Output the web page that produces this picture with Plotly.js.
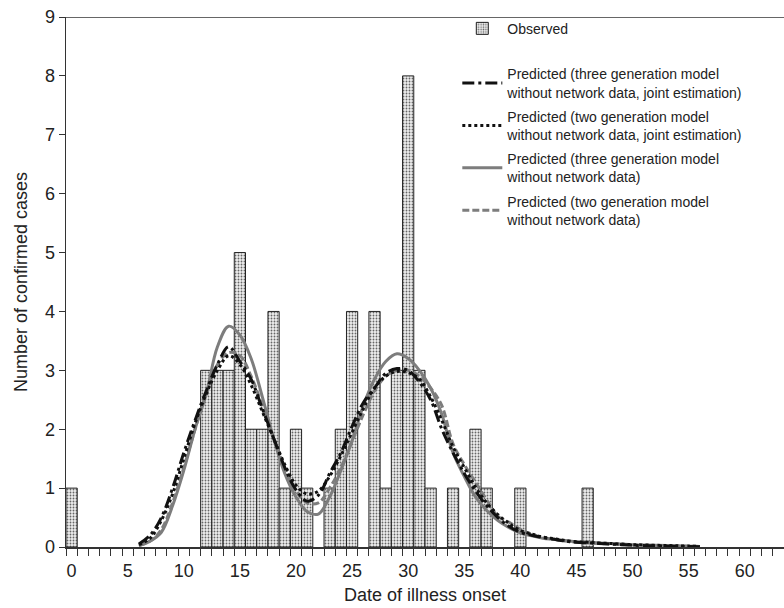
<!DOCTYPE html>
<html>
<head>
<meta charset="utf-8">
<script src="https://cdn.plot.ly/plotly-3.0.1.min.js"></script>
<style>html,body{margin:0;padding:0;background:#fff;}#chart{width:784px;height:608px;}</style>
</head>
<body>
<div id="chart"></div>
<script>
// Observed daily counts
var obsDays = [0,12,13,14,15,16,17,18,19,20,21,23,24,25,27,28,29,30,31,32,34,36,37,40,46];
var obsCounts = [1,3,3,3,5,2,2,4,1,2,1,1,2,4,4,1,3,8,3,1,1,2,1,1,1];

// Model prediction days
var predDays = [6,7,8,9,10,11,12,13,14,15,16,17,18,19,20,21,22,23,24,25,26,27,28,29,30,31,32,33,34,35,36,37,38,39,40,41,42,43,44,45,46,47,48,49,50,52,54,56];

// Predicted (three generation model without network data, joint estimation)
var pred3Joint = [0.05,0.2,0.5,1.0,1.6,2.15,2.65,3.1,3.4,3.15,2.85,2.35,1.85,1.35,0.97,0.78,0.88,1.25,1.6,2.05,2.45,2.7,2.95,3.03,3.0,2.8,2.5,2.0,1.6,1.25,0.95,0.7,0.5,0.35,0.25,0.2,0.16,0.13,0.1,0.08,0.07,0.06,0.05,0.04,0.03,0.02,0.01,0.005];
// Predicted (two generation model without network data, joint estimation)
var pred2Joint = [0.04,0.15,0.45,0.9,1.5,2.1,2.6,3.0,3.25,3.1,2.75,2.3,1.85,1.4,1.05,0.9,0.95,1.2,1.55,1.95,2.35,2.7,2.9,2.98,2.96,2.85,2.55,2.15,1.7,1.35,1.02,0.75,0.55,0.4,0.28,0.22,0.17,0.14,0.11,0.09,0.08,0.07,0.06,0.05,0.04,0.03,0.02,0.01];
// Predicted (three generation model without network data)
var pred3 = [0.02,0.1,0.25,0.7,1.3,2.0,2.6,3.4,3.75,3.6,3.2,2.55,1.85,1.25,0.85,0.6,0.56,0.85,1.3,1.8,2.4,2.85,3.15,3.28,3.2,3.0,2.7,2.25,1.6,1.2,0.85,0.62,0.45,0.33,0.24,0.19,0.15,0.13,0.11,0.09,0.08,0.07,0.06,0.05,0.04,0.03,0.02,0.01];
// Predicted (two generation model without network data)
var pred2 = [0.03,0.1,0.3,0.75,1.35,2.0,2.6,3.1,3.3,3.25,2.9,2.4,1.85,1.35,0.95,0.75,0.75,1.0,1.35,1.8,2.25,2.65,2.9,3.0,3.0,2.9,2.7,2.4,1.75,1.4,1.1,0.8,0.52,0.42,0.3,0.22,0.16,0.13,0.1,0.08,0.07,0.06,0.05,0.04,0.03,0.02,0.015,0.01];

var xTickVals = [0,5,10,15,20,25,30,35,40,45,50,55,60];
var yTickVals = [0,1,2,3,4,5,6,7,8,9];

var names = {
  obs: 'Observed',
  p3j: 'Predicted (three generation model<br>without network data, joint estimation)',
  p2j: 'Predicted (two generation model<br>without network data, joint estimation)',
  p3: 'Predicted (three generation model<br>without network data)',
  p2: 'Predicted (two generation model<br>without network data)'
};

var grey = '#7d7d7d';
var traces = [
  {type:'bar', x:obsDays, y:obsCounts, width:1, name:names.obs, legend:'legend',
   marker:{color:'#eeeeee', line:{color:'#222', width:1},
           pattern:{shape:'.', fgcolor:'#666', bgcolor:'#eeeeee', size:3, solidity:0.3}}},
  {type:'scatter', mode:'lines', x:predDays, y:pred3, name:names.p3, legend:'legend2', legendrank:3, legendgroup:'g3',
   line:{color:grey, width:3, shape:'spline'}},
  {type:'scatter', mode:'lines', x:predDays, y:pred2, name:names.p2, legend:'legend2', legendrank:4, legendgroup:'g4',
   line:{color:grey, width:3, dash:'7px,3px', shape:'spline'}},
  {type:'scatter', mode:'lines', x:predDays, y:pred2Joint, name:names.p2j, legend:'legend2', legendrank:2, legendgroup:'g2',
   line:{color:'#111', width:3, dash:'dot', shape:'spline'}},
  {type:'scatter', mode:'lines', x:predDays, y:pred3Joint, name:names.p3j, legend:'legend2', legendrank:1, legendgroup:'g1',
   line:{color:'#111', width:3, dash:'12px,4px,3px,4px', shape:'spline'}}
];

var font = {family:'"Liberation Sans", Arial, sans-serif', color:'#222'};

var layout = {
  width:784, height:608,
  margin:{l:66, r:0, t:17, b:61},
  paper_bgcolor:'#fff', plot_bgcolor:'#fff',
  font:{family:font.family, color:font.color, size:18},
  bargap:0,
  showlegend:true,
  xaxis:{range:[-0.5,63.5], tickvals:xTickVals, ticktext:xTickVals.map(String),
    ticks:'outside', ticklen:7, tickcolor:'rgba(0,0,0,0)',
    minor:{tick0:0.5, dtick:1, ticks:'outside', ticklen:7, tickcolor:'#333', tickwidth:1, showgrid:false},
    showline:true, linecolor:'#333', linewidth:1.5, showgrid:false, zeroline:false,
    tickfont:{size:18}, title:{text:'Date of illness onset', font:{size:18}, standoff:8}},
  yaxis:{range:[0,9], tickvals:yTickVals, ticks:'outside', ticklen:6, tickcolor:'#333',
    showline:true, linecolor:'#333', linewidth:1.5, showgrid:false, zeroline:false,
    tickfont:{size:18}, title:{text:'Number of confirmed cases', font:{size:18}, standoff:12}},
  shapes:[{type:'line', xref:'paper', yref:'y', x0:0, x1:1, y0:9, y1:9, line:{color:'#333', width:1.5}}],
  legend:{x:0.545, xanchor:'left', y:1.008, yanchor:'top', bgcolor:'rgba(0,0,0,0)',
    font:{size:14, family:font.family, color:font.color}, itemwidth:40, traceorder:'normal'},
  legend2:{x:0.545, xanchor:'left', y:0.922, yanchor:'top', bgcolor:'rgba(0,0,0,0)',
    font:{size:14, family:font.family, color:font.color}, itemwidth:40, traceorder:'grouped', tracegroupgap:3}
};

Plotly.newPlot('chart', traces, layout, {displayModeBar:false, staticPlot:true});
</script>
</body>
</html>
